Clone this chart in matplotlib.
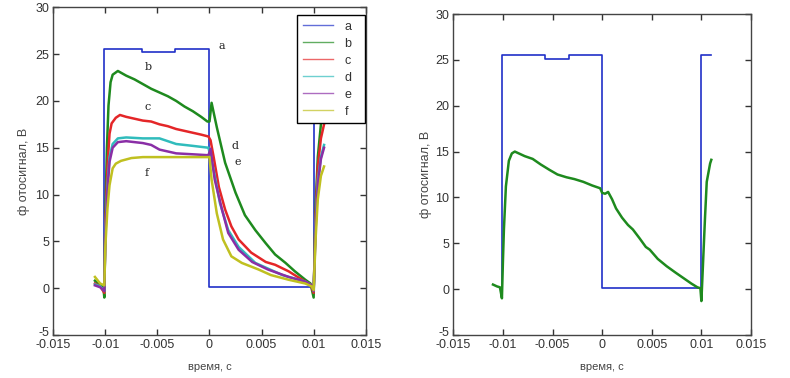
import matplotlib
matplotlib.use("Agg")
import matplotlib.pyplot as plt
import matplotlib.transforms as mtransforms

plt.rcParams['font.family'] = ['Liberation Sans Narrow', 'Liberation Sans', 'DejaVu Sans']

# ---------------- data: left panel ----------------
a_t = [-0.0101, -0.0101, -0.0065, -0.0065, -0.0033, -0.0033, 0.0, 0.0, 0.0100, 0.0100, 0.0110]
a_v = [0.0, 25.5, 25.5, 25.2, 25.2, 25.5, 25.5, 0.1, 0.1, 25.5, 25.5]

b_t = [-0.0110, -0.0105, -0.0102, -0.0101, -0.01005, -0.0100, -0.00985, -0.0097, -0.0095, -0.0093,
       -0.0088, -0.0080, -0.0072, -0.0064, -0.0056, -0.0048, -0.0040, -0.0032, -0.0024, -0.0016,
       -0.0008, -0.0002, 0.0000, 0.0002, 0.0007, 0.0015, 0.0025, 0.0034, 0.0044, 0.0054,
       0.0063, 0.0073, 0.0082, 0.0092, 0.0097, 0.0100, 0.0102, 0.0104, 0.0107, 0.0110]
b_v = [0.8, 0.3, 0.2, -1.0, 3.0, 8.0, 15.0, 19.5, 22.0, 22.8,
       23.2, 22.7, 22.3, 21.8, 21.3, 20.9, 20.5, 20.0, 19.4, 18.9,
       18.3, 17.8, 17.8, 19.8, 17.2, 13.4, 10.2, 7.8, 6.2, 4.8,
       3.6, 2.7, 1.8, 0.9, 0.5, -1.0, 9.0, 14.0, 17.5, 19.5]

c_t = [-0.0110, -0.0105, -0.0101, -0.0100, -0.0098, -0.0096, -0.0094, -0.0090, -0.0086, -0.0080,
       -0.0072, -0.0064, -0.0056, -0.0048, -0.0040, -0.0032, -0.0024, -0.0016, -0.0008, -0.0001,
       0.0001, 0.0004, 0.0009, 0.0015, 0.0021, 0.0028, 0.0040, 0.0054, 0.0063, 0.0076,
       0.0089, 0.0097, 0.0100, 0.0102, 0.0104, 0.0107, 0.0110]
c_v = [0.5, 0.2, -0.5, 7.0, 13.0, 16.5, 17.6, 18.2, 18.5, 18.3,
       18.1, 17.9, 17.8, 17.5, 17.3, 17.0, 16.8, 16.6, 16.4, 16.2,
       15.8, 14.0, 10.8, 8.4, 6.6, 5.2, 3.8, 2.8, 2.5, 1.8,
       0.9, 0.4, -0.5, 8.0, 13.0, 16.0, 17.5]

d_t = [-0.0110, -0.0105, -0.0101, -0.0100, -0.0098, -0.0096, -0.0093, -0.0088, -0.0080, -0.0064,
       -0.0048, -0.0040, -0.0032, -0.0016, -0.0001, 0.0004, 0.0010, 0.0018, 0.0028, 0.0044,
       0.0070, 0.0092, 0.0098, 0.0100, 0.0102, 0.0104, 0.0107, 0.0110]
d_v = [0.4, 0.2, -0.3, 6.0, 11.0, 14.0, 15.4, 16.0, 16.1, 16.0,
       16.0, 15.7, 15.4, 15.2, 15.0, 12.6, 9.1, 6.2, 4.4, 2.7,
       1.4, 0.7, 0.3, -0.3, 7.0, 11.5, 14.0, 15.3]

e_t = [-0.0110, -0.0105, -0.0101, -0.0100, -0.0098, -0.0096, -0.0093, -0.0088, -0.0080, -0.0064,
       -0.0056, -0.0048, -0.0040, -0.0032, -0.0016, -0.0001, 0.0001, 0.0005, 0.0012, 0.0018,
       0.0028, 0.0041, 0.0056, 0.0076, 0.0092, 0.0098, 0.0100, 0.0102, 0.0104, 0.0107, 0.0110]
e_v = [0.3, 0.1, -0.3, 5.5, 10.5, 13.5, 15.0, 15.6, 15.7, 15.5,
       15.3, 14.8, 14.6, 14.4, 14.3, 14.2, 14.9, 11.6, 8.4, 5.9,
       4.1, 2.8, 2.0, 1.2, 0.7, 0.3, -0.3, 6.5, 11.0, 13.8, 15.0]

f_t = [-0.0110, -0.0105, -0.0101, -0.0100, -0.0098, -0.0096, -0.0093, -0.0090, -0.0085, -0.0075,
       -0.0064, -0.0040, -0.0016, 0.0000, 0.0002, 0.0007, 0.0013, 0.0021, 0.0031, 0.0047,
       0.0059, 0.0076, 0.0092, 0.0098, 0.0100, 0.0102, 0.0104, 0.0107, 0.0110]
f_v = [1.2, 0.5, 0.3, 4.5, 8.5, 11.0, 12.8, 13.3, 13.6, 13.9,
       14.0, 14.0, 14.0, 14.0, 11.6, 8.0, 5.2, 3.4, 2.7, 2.0,
       1.4, 0.9, 0.5, 0.2, -0.2, 5.5, 9.5, 12.0, 13.0]

# ---------------- data: right panel ----------------
ra_t = [-0.0101, -0.0101, -0.0058, -0.0058, -0.0033, -0.0033, 0.0, 0.0, 0.0100, 0.0100, 0.0110]
ra_v = [-1.0, 25.5, 25.5, 25.1, 25.1, 25.5, 25.5, 0.1, 0.1, 25.5, 25.5]

rg_t = [-0.0110, -0.0106, -0.0103, -0.0101, -0.0100, -0.0099, -0.0097, -0.0094, -0.0091, -0.0088,
        -0.0084, -0.0078, -0.0070, -0.0062, -0.0053, -0.0045, -0.0036, -0.0028, -0.0019, -0.0010,
        -0.0002, 0.0000, 0.0003, 0.0006, 0.0010, 0.0014, 0.0020, 0.0026, 0.0031, 0.0038,
        0.0044, 0.0048, 0.0056, 0.0065, 0.0074, 0.0082, 0.0090, 0.0096, 0.0099, 0.0100,
        0.01037, 0.01054, 0.01088, 0.0110]
rg_v = [0.5, 0.3, 0.2, -1.0, 3.0, 6.5, 11.2, 14.0, 14.8, 15.0,
        14.8, 14.5, 14.2, 13.6, 13.0, 12.5, 12.2, 12.0, 11.7, 11.3,
        11.0, 10.5, 10.4, 10.6, 9.8, 8.8, 7.8, 7.0, 6.5, 5.5,
        4.6, 4.3, 3.3, 2.5, 1.8, 1.2, 0.6, 0.2, 0.1, -1.3,
        7.9, 11.7, 13.7, 14.1]

labels = ['a', 'b', 'c', 'd', 'e', 'f']
colors = ['#2030c8', '#1e8a1e', '#e42628', '#30bcbc', '#8a2ea6', '#c0c020']

xticks = [-0.015, -0.01, -0.005, 0, 0.005, 0.01, 0.015]
xticklabels = ['-0.015', '-0.01', '-0.005', '0', '0.005', '0.01', '0.015']
yticks = [-5, 0, 5, 10, 15, 20, 25, 30]
yticklabels = ['-5', '0', '5', '10', '15', '20', '25', '30']

W, H = 790, 378
fig = plt.figure(figsize=(W / 100, H / 100), dpi=100)
axL = fig.add_axes([53.3 / W, 1 - 335 / H, 312.4 / W, 327.7 / H])
axR = fig.add_axes([453.3 / W, 1 - 335 / H, 297.7 / W, 321 / H])


def style(ax, ylab_x, xlab_y):
    ax.set_xlim(-0.015, 0.015)
    ax.set_ylim(-5, 30)
    ax.set_xticks(xticks)
    ax.set_xticklabels(xticklabels)
    ax.set_yticks(yticks)
    ax.set_yticklabels(yticklabels)
    ax.tick_params(direction='in', top=True, right=True, length=4, width=1,
                   labelsize=9, colors='#333333', pad=3)
    for s in ax.spines.values():
        s.set_color('#444444')
        s.set_linewidth(1.0)
    ax.set_xlabel('время, с', fontsize=8, color='#444444')
    ax.set_ylabel('ф отосигнал, В', fontsize=9, color='#444444')
    ax.yaxis.set_label_coords(ylab_x, 0.5)
    ax.xaxis.set_label_coords(0.5, xlab_y)
    # lift the lowest y label slightly, as in the reference
    lab = ax.get_yticklabels()[0]
    lab.set_transform(lab.get_transform() +
                      mtransforms.ScaledTranslation(0, 4 / 100, fig.dpi_scale_trans))


series_t = [a_t, b_t, c_t, d_t, e_t, f_t]
series_v = [a_v, b_v, c_v, d_v, e_v, f_v]
lws = [1.2, 1.8, 1.8, 1.8, 1.8, 1.8]
handles = []
for t, v, col, lab, lw in zip(series_t, series_v, colors, labels, lws):
    h, = axL.plot(t, v, color=col, lw=lw, label=lab)
    handles.append(h)

# annotations next to curves
ann = [('a', 0.0009, 25.9), ('b', -0.0062, 23.6), ('c', -0.0062, 19.3),
       ('d', 0.0021, 15.2), ('e', 0.0024, 13.5), ('f', -0.0062, 12.3)]
for s, x, y in ann:
    axL.text(x, y, s, fontsize=8, color='#222222', family='DejaVu Serif', va='center')

style(axL, (30 - 53.3) / 312.4, -(362 - 335) / 327.7)
leg = axL.legend(handles=handles, loc='upper left',
                 bbox_to_anchor=(0.780, 0.9765), borderaxespad=0,
                 fontsize=9, handlelength=2.4, labelspacing=0.4, borderpad=0.45,
                 frameon=True, fancybox=False, edgecolor='black', framealpha=1,
                 handletextpad=1.0)
leg.get_frame().set_linewidth(1.0)
for ln in leg.get_lines():
    ln.set_linewidth(1.0)
    ln.set_alpha(0.7)
for tx in leg.get_texts():
    tx.set_color('#333333')
    tx.set_text(tx.get_text() + '  ')

axR.plot(ra_t, ra_v, color=colors[0], lw=1.2)
axR.plot(rg_t, rg_v, color=colors[1], lw=1.8)
style(axR, (432 - 453.3) / 297.7, -(362 - 335) / 321)

fig.savefig('out.png', dpi=100)
